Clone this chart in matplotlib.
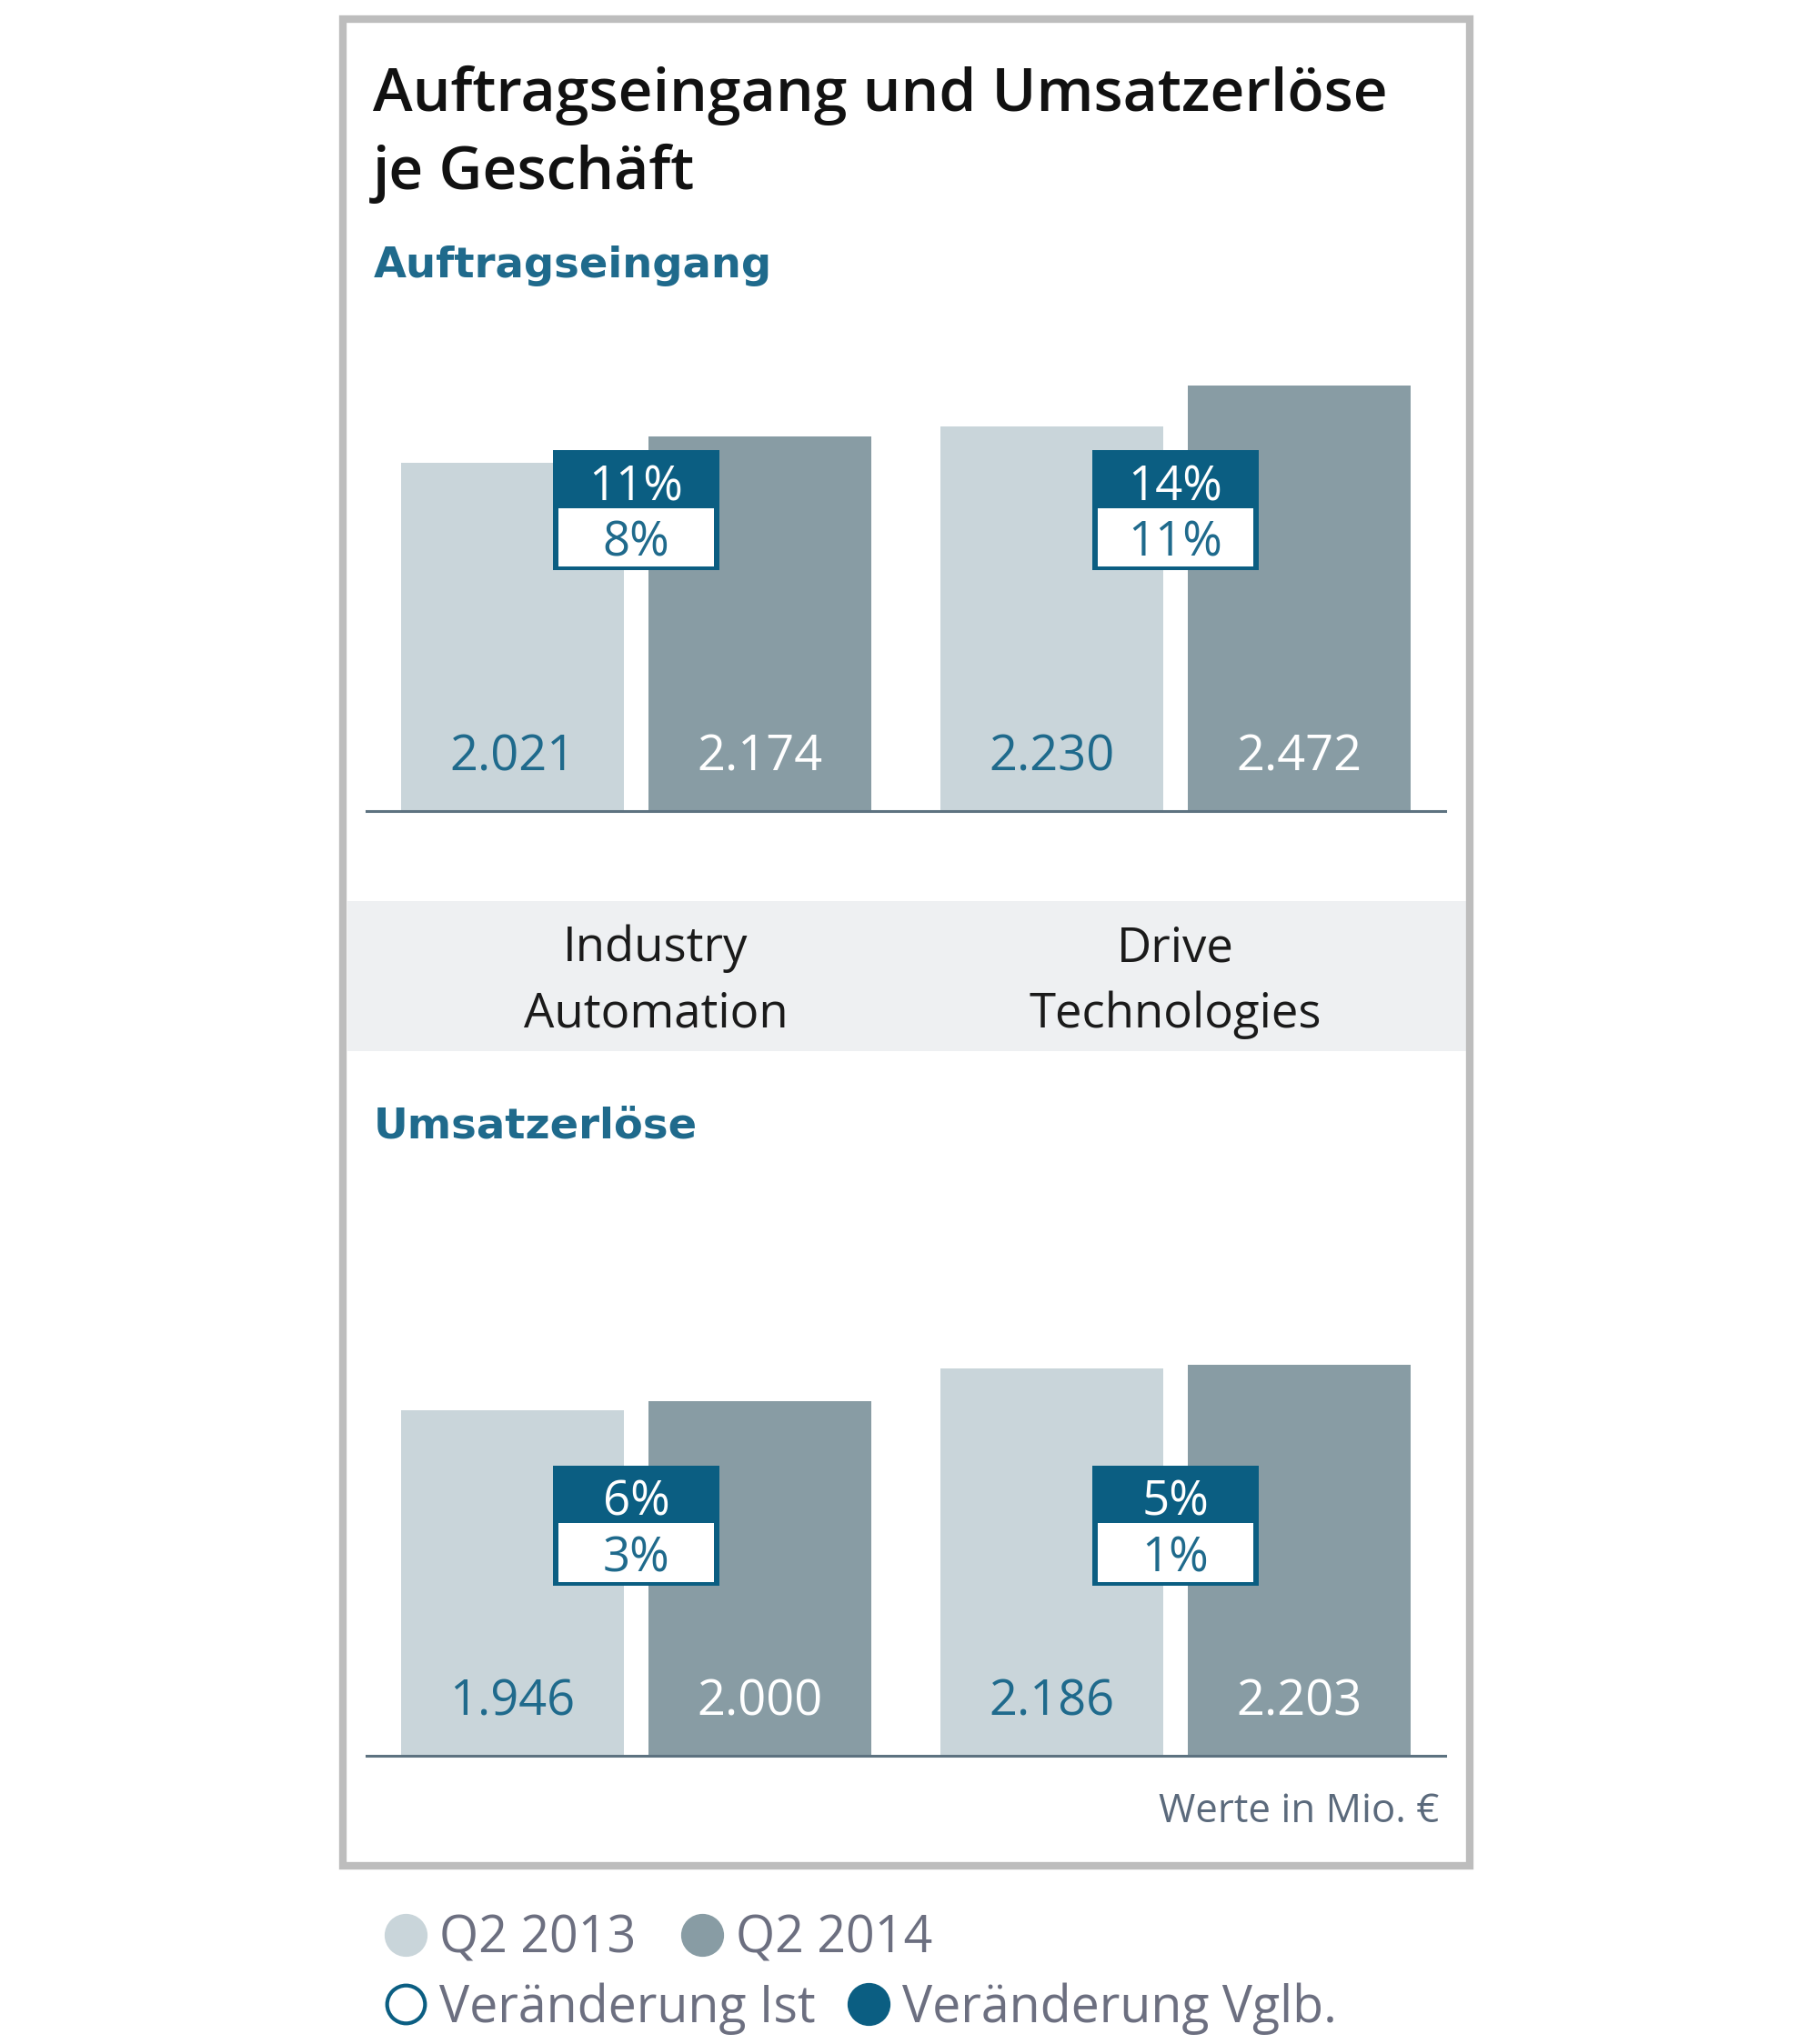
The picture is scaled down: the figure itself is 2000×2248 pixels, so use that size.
import matplotlib
matplotlib.use("Agg")
import matplotlib.pyplot as plt
import matplotlib.transforms as mtransforms
from matplotlib.patches import Rectangle
from matplotlib.lines import Line2D

plt.rcParams['font.family'] = ['Open Sans', 'DejaVu Sans']

# data
categories = ['Industry\nAutomation', 'Drive\nTechnologies']
series = ['Q2 2013', 'Q2 2014']
orders_2013 = [2021, 2230]
orders_2014 = [2174, 2472]
sales_2013 = [1946, 2186]
sales_2014 = [2000, 2203]
orders_vglb = ['11%', '14%']
orders_ist = ['8%', '11%']
sales_vglb = ['6%', '5%']
sales_ist = ['3%', '1%']

LIGHT = '#c9d5da'
DARK = '#889ca4'
TEAL = '#0b5e82'
TEAL_TXT = '#1f6a8c'
GREY_TXT = '#6c6f80'

W, H = 2000, 2248
fig = plt.figure(figsize=(W / 100, H / 100), dpi=100)


def fx(px):
    return px / W


def fy(py):
    return 1 - py / H


def px_axes(left, top, right, bottom):
    return fig.add_axes([fx(left), fy(bottom), (right - left) / W, (bottom - top) / H])


# frame around the chart
fig.patches.append(Rectangle((fx(377), fy(2052)), (1616 - 377) / W, (2052 - 21) / H,
                             transform=fig.transFigure, fill=False,
                             edgecolor='#bdbdbd', linewidth=6))
# grey band behind the category names
fig.patches.append(Rectangle((fx(382), fy(1156)), (1612 - 382) / W, (1156 - 991) / H,
                             transform=fig.transFigure, facecolor='#eef0f2',
                             edgecolor='none', zorder=0))

fig.text(fx(410), fy(122), 'Auftragseingang und Umsatzerlöse', fontsize=47.5,
         color='#111111', weight='semibold', va='baseline')
fig.text(fx(410), fy(208), 'je Geschäft', fontsize=47.5, color='#111111',
         weight='semibold', va='baseline')
fig.text(fx(411), fy(305), 'Auftragseingang', fontsize=33.5, color=TEAL_TXT,
         family='DejaVu Sans', weight='bold', va='baseline')
fig.text(fx(411), fy(1251), 'Umsatzerlöse', fontsize=33.5, color=TEAL_TXT,
         family='DejaVu Sans', weight='bold', va='baseline')

# category names
label_x = [721, 1292]
for cx, cat in zip(label_x, categories):
    for line, base in zip(cat.split('\n'), [1057, 1130]):
        fig.text(fx(cx), fy(base), line, fontsize=38, color='#1a1a1a',
                 ha='center', va='baseline')


def bar_panel(ax, v13, v14, vglb, ist, ymax, badge):
    x = range(len(v13))
    off, bw = 0.229, 0.413
    ax.bar([i - off for i in x], v13, width=bw, color=LIGHT, zorder=2)
    ax.bar([i + off for i in x], v14, width=bw, color=DARK, zorder=2)
    ax.set_xlim(-0.5, 1.5)
    ax.set_ylim(0, ymax)
    for s in ['top', 'left', 'right']:
        ax.spines[s].set_visible(False)
    ax.spines['bottom'].set_color('#5d7280')
    ax.spines['bottom'].set_linewidth(2.2)
    ax.spines['bottom'].set_zorder(3)
    ax.set_xticks([])
    ax.set_yticks([])
    ax.patch.set_alpha(0)
    trans = mtransforms.blended_transform_factory(ax.transData, ax.transAxes)
    for i in x:
        ax.text(i - off, 0.085, f'{v13[i] / 1000:.3f}', transform=trans, ha='center',
                va='baseline', fontsize=39, color=TEAL_TXT, zorder=4)
        ax.text(i + off, 0.085, f'{v14[i] / 1000:.3f}', transform=trans, ha='center',
                va='baseline', fontsize=39, color='white', zorder=4)
        b0, bm, b1 = badge
        bwid = 0.307
        ax.add_patch(Rectangle((i - bwid / 2, b0), bwid, b1 - b0, transform=trans,
                               facecolor=TEAL, edgecolor='none', zorder=5))
        inset_x = 0.0085
        inset_y = 0.008
        ax.add_patch(Rectangle((i - bwid / 2 + inset_x, b0 + inset_y), bwid - 2 * inset_x,
                               bm - b0 - inset_y, transform=trans,
                               facecolor='white', edgecolor='none', zorder=6))
        ax.text(i, bm + 0.016, vglb[i], transform=trans, ha='center', va='baseline',
                fontsize=38, color='white', zorder=7)
        ax.text(i, b0 + 0.030, ist[i], transform=trans, ha='center', va='baseline',
                fontsize=38, color=TEAL_TXT, zorder=7)


ax1 = px_axes(403, 372, 1589, 892)
bar_panel(ax1, orders_2013, orders_2014, orders_vglb, orders_ist, 520 / 0.1895,
          (0.5096, 0.640, 0.7635))

ax2 = px_axes(403, 1411, 1589, 1931)
bar_panel(ax2, sales_2013, sales_2014, sales_vglb, sales_ist, 520 / 0.1951,
          (0.360, 0.492, 0.613))

fig.text(fx(1582), fy(2004), 'Werte in Mio. €', fontsize=31.5, color='#5b6a7c',
         ha='right', va='baseline')

# legend below the frame
ms = 33
h1 = [Line2D([], [], marker='o', linestyle='none', markersize=ms, markerfacecolor=LIGHT,
             markeredgecolor=LIGHT),
      Line2D([], [], marker='o', linestyle='none', markersize=ms, markerfacecolor=DARK,
             markeredgecolor=DARK)]
h2 = [Line2D([], [], marker='o', linestyle='none', markersize=ms - 3, markerfacecolor='white',
             markeredgecolor=TEAL, markeredgewidth=3),
      Line2D([], [], marker='o', linestyle='none', markersize=ms, markerfacecolor=TEAL,
             markeredgecolor=TEAL)]
leg_kw = dict(frameon=False, fontsize=40, labelcolor=GREY_TXT, handletextpad=0.22,
              handlelength=0.9, borderpad=0, borderaxespad=0)
leg1 = fig.legend(h1, series, ncol=2, loc='center left', columnspacing=0.85,
                  bbox_to_anchor=(fx(421), fy(2133)), **leg_kw)
leg2 = fig.legend(h2, ['Veränderung Ist', 'Veränderung Vglb.'], ncol=2, loc='center left',
                  columnspacing=0.6, bbox_to_anchor=(fx(421), fy(2209)), **leg_kw)

fig.savefig('out.png', dpi=100, facecolor='white')
